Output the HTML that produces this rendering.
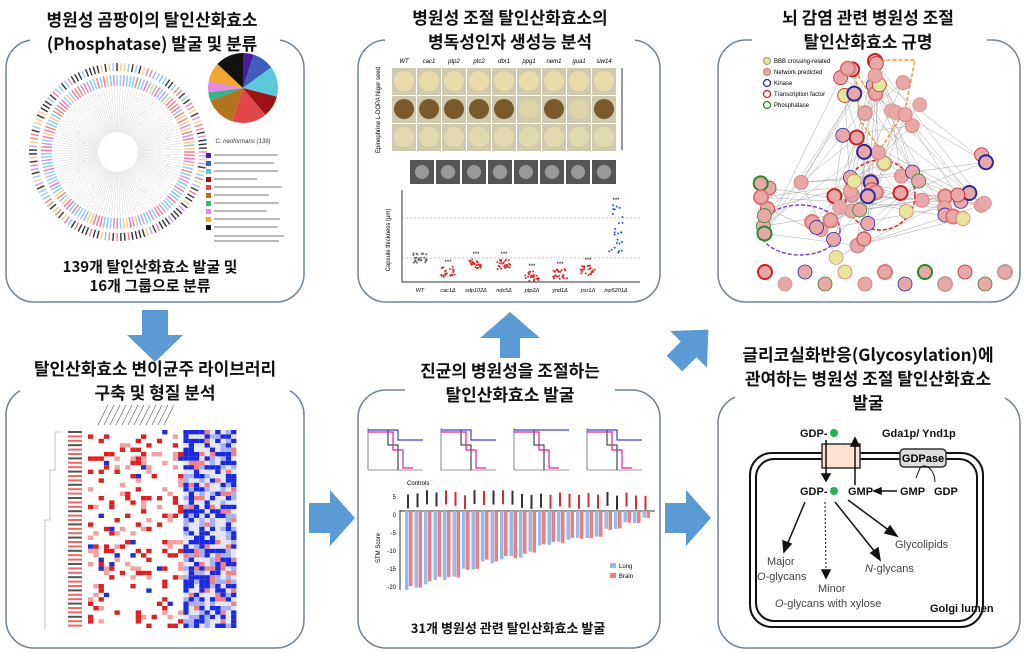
<!DOCTYPE html>
<html><head><meta charset="utf-8"><style>
html,body{margin:0;padding:0;background:#fff;width:1024px;height:652px;overflow:hidden}
svg text{font-family:"Liberation Sans","Noto Sans CJK KR",sans-serif}
.t{font-family:"Noto Sans CJK KR","Liberation Sans",sans-serif !important;font-weight:bold;font-size:17px;fill:#111}
</style></head><body>
<svg id="s" width="1024" height="652" viewBox="0 0 1024 652" xmlns="http://www.w3.org/2000/svg">
<g fill="none" stroke="#6f8497" stroke-width="1.5">
<rect x="6" y="40" width="298" height="262" rx="28"/>
<rect x="358" y="40" width="302" height="262" rx="28"/>
<rect x="718" y="40" width="302" height="262" rx="28"/>
<rect x="6" y="387" width="298" height="261" rx="28"/>
<rect x="358" y="390" width="302" height="258" rx="28"/>
<rect x="718" y="395" width="302" height="253" rx="28"/>
</g>
<g fill="#fff">
<rect x="30" y="30" width="250" height="22"/><rect x="385" y="30" width="250" height="22"/>
<rect x="752" y="30" width="235" height="22"/><rect x="20" y="380" width="270" height="22"/>
<rect x="405" y="382" width="210" height="22"/><rect x="735" y="385" width="270" height="30"/>
</g>
<g text-anchor="middle">
<text class="t" x="152" y="26">병원성 곰팡이의 탈인산화효소</text>
<text class="t" x="152" y="50">(Phosphatase) 발굴 및 분류</text>
<text class="t" x="510" y="24">병원성 조절 탈인산화효소의</text>
<text class="t" x="510" y="48">병독성인자 생성능 분석</text>
<text class="t" x="868" y="24">뇌 감염 관련 병원성 조절</text>
<text class="t" x="868" y="48">탈인산화효소 규명</text>
<text class="t" x="155" y="375">탈인산화효소 변이균주 라이브러리</text>
<text class="t" x="155" y="399">구축 및 형질 분석</text>
<text class="t" x="510" y="377">진균의 병원성을 조절하는</text>
<text class="t" x="510" y="401">탈인산화효소 발굴</text>
<text class="t" x="868" y="361">글리코실화반응(Glycosylation)에</text>
<text class="t" x="868" y="385">관여하는 병원성 조절 탈인산화효소</text>
<text class="t" x="868" y="409">발굴</text>
<text class="t" x="150" y="272" style="font-size:15px">139개 탈인산화효소 발굴 및</text>
<text class="t" x="150" y="291" style="font-size:15px">16개 그룹으로 분류</text>
<text class="t" x="508" y="633" style="font-size:13px">31개 병원성 관련 탈인산화효소 발굴</text>
</g>
<!-- arrows -->
<g fill="#5b9bd5">
<polygon points="142,310 168,310 168,335 183,335 155,362 127,335 142,335"/>
<polygon points="500,358 520,358 520,338 540,338 510,312 480,338 500,338"/>
<polygon points="309,503 330,503 330,490 355,518 330,546 330,533 309,533"/>
<polygon points="665,503 686,503 686,490 711,518 686,546 686,533 665,533"/>
<polygon transform="rotate(-45 690 348)" points="668,337 688,337 688,322 716,348 688,374 688,359 668,359"/>
</g>
<g id="dyn"></g>
<g transform="translate(243,88)" id="pie"></g>
<text x="243" y="143" font-size="6" text-anchor="middle" font-style="italic" fill="#333">C. neoformans (139)</text>
<!-- golgi -->
<g stroke="#111" fill="none" stroke-width="2">
<rect x="750" y="453" width="233" height="174" rx="22"/>
<rect x="756" y="459" width="221" height="162" rx="18"/>
</g>
<rect x="822" y="444" width="38" height="24" fill="#fbe1d0" stroke="#333" stroke-width="1.5"/>
<rect x="900" y="449" width="46" height="18" rx="4" fill="#ddd" stroke="#333" stroke-width="1.5"/>
<text x="923" y="462" font-size="11" font-weight="bold" text-anchor="middle">GDPase</text>
<g font-size="11" font-weight="bold" fill="#111">
<text x="800" y="437">GDP-</text><circle cx="834" cy="433" r="4" fill="#22b14c"/>
<text x="882" y="437">Gda1p/ Ynd1p</text>
<text x="800" y="495">GDP-</text><circle cx="834" cy="491" r="4" fill="#22b14c"/>
<text x="848" y="495">GMP</text><text x="900" y="495">GMP</text><text x="934" y="495">GDP</text>
<text x="930" y="612">Golgi lumen</text>
</g>
<g font-size="11" fill="#444">
<text x="767" y="565">Major</text><text x="757" y="580"><tspan font-style="italic">O</tspan>-glycans</text>
<text x="818" y="592">Minor</text><text x="775" y="607"><tspan font-style="italic">O</tspan>-glycans with xylose</text>
<text x="865" y="572"><tspan font-style="italic">N</tspan>-glycans</text>
<text x="895" y="548">Glycolipids</text>
</g>
<g stroke="#111" stroke-width="1.5" fill="#111">
<line x1="826" y1="440" x2="826" y2="475"/><polygon points="822,474 830,474 826,481"/>
<line x1="855" y1="485" x2="855" y2="445"/><polygon points="851,446 859,446 855,438"/>
<line x1="897" y1="491" x2="880" y2="491"/><polygon points="881,488 881,494 874,491"/>
<path d="M935,482 C935,470 925,462 920,468 L916,478" fill="none" stroke-width="1"/>
<line x1="805" y1="502" x2="787" y2="545"/><polygon points="783,541 791,544 784,552"/>
<line x1="825" y1="502" x2="826" y2="572" stroke-dasharray="2,2" stroke-width="1"/><polygon points="822,570 830,570 826,578"/>
<line x1="835" y1="502" x2="875" y2="552"/><polygon points="871,553 878,548 880,560"/>
<line x1="848" y1="500" x2="890" y2="531"/><polygon points="885,533 890,526 897,536"/>
</g>
</svg>
<script>
var d=document.getElementById('dyn'),h='';
var seed=7;function r(){seed=(seed*16807)%2147483647;return seed/2147483647;}
var cx=118,cy=152,cols=['#e88','#f7a','#9cf','#c9e','#fc8','#8cd','#333'];
for(var i=0;i<139;i++){var a=i/139*Math.PI*2,c=Math.cos(a),s=Math.sin(a);
h+='<line x1="'+(cx+c*66)+'" y1="'+(cy+s*66)+'" x2="'+(cx+c*77)+'" y2="'+(cy+s*77)+'" stroke="'+cols[Math.floor(r()*6)]+'" stroke-width="1.5"/>';
h+='<line x1="'+(cx+c*81)+'" y1="'+(cy+s*81)+'" x2="'+(cx+c*89)+'" y2="'+(cy+s*89)+'" stroke="'+(r()<0.5?'#333':cols[Math.floor(r()*6)])+'" stroke-width="1.4"/>';
h+='<line x1="'+(cx+c*20)+'" y1="'+(cy+s*20)+'" x2="'+(cx+c*64)+'" y2="'+(cy+s*64)+'" stroke="#ccc" stroke-width="0.4"/>';}
var lc=['#4b1d9e','#3f5fbf','#5bc8dc','#9e1414','#e04848','#b3741e','#3bb38a','#e68ae0','#f0a830','#111'];
for(i=0;i<10;i++){h+='<rect x="206" y="'+(153+i*8)+'" width="5" height="5" fill="'+lc[i]+'"/><rect x="214" y="'+(154+i*8)+'" width="'+(40+r()*30)+'" height="2" fill="#bbb"/>';}
h+='<rect x="214" y="235" width="70" height="2" fill="#bbb"/><rect x="214" y="240" width="65" height="2" fill="#bbb"/>';
var sl=[5,10,14,10,16,14,4,5,9,13],tot=100,ang=-Math.PI/2,ph='';
for(i=0;i<10;i++){var a2=ang+sl[i]/tot*Math.PI*2;ph+='<path d="M0,0 L'+35*Math.cos(ang)+','+35*Math.sin(ang)+' A35,35 0 0 1 '+35*Math.cos(a2)+','+35*Math.sin(a2)+' Z" fill="'+lc[i]+'"/>';ang=a2;}
document.getElementById('pie').innerHTML=ph;
var lbl=['WT','cac1','ptp2','ptc2','dbr1','ppg1','nem1','gua1','siw14'];
for(i=0;i<9;i++){var x=392+i*25;h+='<text x="'+(x+12)+'" y="63" font-size="6" font-style="italic" text-anchor="middle">'+lbl[i]+'</text>';
for(var j=0;j<3;j++){var col=j==0?'#e9dcaa':(j==1?(i==5||i==7?'#ddd2a8':'#7a5a2a'):'#e3d9b0');h+='<rect x="'+x+'" y="'+(68+j*28)+'" width="24" height="27" fill="#cfc9b0"/><circle cx="'+(x+12)+'" cy="'+(81+j*28)+'" r="10" fill="'+col+'"/>';}}
h+='<text x="380" y="110" font-size="6" transform="rotate(-90 380 110)" text-anchor="middle">Epinephrine  L-DOPA  Niger seed</text>';
h+='<line x1="622" y1="68" x2="622" y2="150" stroke="#333"/>';
for(i=0;i<8;i++){h+='<rect x="'+(410+i*26)+'" y="160" width="24" height="24" fill="#555"/><circle cx="'+(422+i*26)+'" cy="172" r="7" fill="#999"/>';}
h+='<line x1="402" y1="190" x2="402" y2="282" stroke="#333"/><line x1="402" y1="282" x2="640" y2="282" stroke="#333"/>';
h+='<line x1="402" y1="218" x2="640" y2="218" stroke="#888" stroke-dasharray="2,2" stroke-width="0.6"/><line x1="402" y1="258" x2="640" y2="258" stroke="#888" stroke-dasharray="2,2" stroke-width="0.6"/>';
h+='<text x="390" y="240" font-size="6" transform="rotate(-90 390 240)" text-anchor="middle">Capsule thickness (μm)</text>';
var ys=[258,272,264,264,276,274,270,230];var xl=['WT','cac1Δ','sdp102Δ','ndx5Δ','ptp2Δ','ynd1Δ','psr1Δ','inp5201Δ'];
for(i=0;i<8;i++){var x=420+i*28;for(j=0;j<25;j++){var yy=ys[i]+(r()-0.5)*(i==7?50:10);h+='<circle cx="'+(x+(r()-0.5)*14)+'" cy="'+yy+'" r="1" fill="'+(i==0?'#666':(i==7?'#2a5fc0':'#d03030'))+'"/>';}
h+='<text x="'+x+'" y="292" font-size="5.5" font-style="italic" text-anchor="middle">'+xl[i]+'</text>';if(i>0)h+='<text x="'+x+'" y="'+(ys[i]-(i==7?28:8))+'" font-size="6" text-anchor="middle">***</text>';}
var nodes=[];for(i=0;i<85;i++){var nx,ny;if(i<20){nx=840+r()*90;ny=60+r()*80;}else if(i<50){nx=850+r()*140;ny=150+r()*80;}else if(i<72){nx=760+r()*110;ny=180+r()*80;}else{nx=765+(i-72)*20;ny=272+((i%2)*12);}nodes.push([nx,ny]);}
for(i=0;i<90;i++){var p=nodes[Math.floor(r()*72)],q=nodes[Math.floor(r()*72)];h+='<line x1="'+p[0]+'" y1="'+p[1]+'" x2="'+q[0]+'" y2="'+q[1]+'" stroke="#aaa" stroke-width="0.5"/>';}
h+='<ellipse cx="880" cy="195" rx="35" ry="35" fill="none" stroke="#d22" stroke-width="1.5" stroke-dasharray="4,2"/>';
h+='<path d="M855,70 L870,95 L880,60 L915,60 L905,110 L880,150 L860,120 Z" fill="none" stroke="#f0953a" stroke-width="1.5" stroke-dasharray="4,2"/>';
h+='<ellipse cx="800" cy="230" rx="40" ry="25" fill="none" stroke="#8b3fc0" stroke-width="1.5" stroke-dasharray="4,2"/>';
var rim=['#d77','#d77','#d77','#2a2aa0','#2a8a2a','#c22','#c99'];
for(i=0;i<85;i++){var f=i%9==4?'#e6e69a':'#e8a8a8';h+='<circle cx="'+nodes[i][0]+'" cy="'+nodes[i][1]+'" r="7" fill="'+f+'" stroke="'+rim[Math.floor(r()*7)]+'" stroke-width="'+(r()<0.4?2:0.8)+'"/>';}
var lg=[['#e6e69a','#aa8','BBB crossing-related'],['#e8a8a8','#c88','Network predicted'],['#fff','#2a2aa0','Kinase'],['#fff','#c22','Transcription factor'],['#fff','#2a8a2a','Phosphatase']];
for(i=0;i<5;i++){h+='<circle cx="767" cy="'+(61+i*11)+'" r="3.5" fill="'+lg[i][0]+'" stroke="'+lg[i][1]+'" stroke-width="1.3"/><text x="774" y="'+(63+i*11)+'" font-size="6">'+lg[i][2]+'</text>';}
for(i=0;i<45;i++){for(j=0;j<28;j++){var x=88+j*5.3,y=430+i*4.4,v=r(),c='#fff';
if(j<18){if(v<0.12)c='#e02020';else if(v<0.2)c='#f4a0a0';else if(v<0.22)c='#2030d0';}
else{if(v<0.4)c='#1a2ae0';else if(v<0.58)c='#a8b0f0';else if(v<0.7)c='#f08080';else c='#e4e6f4';}
if(c!='#fff')h+='<rect x="'+x+'" y="'+y+'" width="5.3" height="4.4" fill="'+c+'"/>';}
h+='<rect x="68" y="'+(431+i*4.4)+'" width="14" height="2" fill="'+(i%3?'#e66':'#555')+'"/>';}
h+='<path d="M62,432 L55,432 L55,470 L50,470 L50,520 L45,520 L45,630" fill="none" stroke="#999" stroke-width="0.6"/>';
for(i=0;i<12;i++)h+='<line x1="'+(98+i*6)+'" y1="425" x2="'+(108+i*6)+'" y2="405" stroke="#555" stroke-width="0.6"/>';
for(i=0;i<4;i++){var x=368+i*73;h+='<line x1="'+x+'" y1="428" x2="'+x+'" y2="470" stroke="#333" stroke-width="0.6"/><line x1="'+x+'" y1="470" x2="'+(x+55)+'" y2="470" stroke="#333" stroke-width="0.6"/>';
h+='<path d="M'+x+',430 H'+(x+20)+' V445 H'+(x+30)+' V470" stroke="#222" fill="none" stroke-width="1"/>';
h+='<path d="M'+x+',432 H'+(x+25)+' V450 H'+(x+35)+' V468 H'+(x+45)+'" stroke="#e020a0" fill="none" stroke-width="1.2"/>';
h+='<path d="M'+x+',430 H'+(x+30)+' V'+(i==2?430:440)+' H'+(x+55)+'" stroke="#4040d0" fill="none" stroke-width="1.2"/>';}
h+='<line x1="400" y1="510" x2="400" y2="590" stroke="#333"/><line x1="400" y1="511" x2="655" y2="511" stroke="#333"/>';
h+='<text x="372" y="555" font-size="6" transform="rotate(-90 380 555)">STM Score</text>';
var yl=['5','0','-5','-10','-15','-20'];for(i=0;i<6;i++)h+='<text x="396" y="'+(497+i*18+2)+'" font-size="6" text-anchor="end">'+yl[i]+'</text>';
h+='<text x="407" y="485" font-size="6">Controls</text>';
for(i=0;i<26;i++){var x=405+i*9.5,dep=Math.max(5,80-i*2.7-r()*8);
h+='<rect x="'+x+'" y="511" width="3.5" height="'+dep+'" fill="#9bb8e8"/><rect x="'+(x+4)+'" y="511" width="3.5" height="'+(dep*(0.9+r()*0.2))+'" fill="#ea7f7f"/>';
h+='<rect x="'+(x+2)+'" y="'+(490+r()*6)+'" width="2" height="14" fill="'+(r()<0.6?'#d03030':'#333')+'"/>';}
h+='<rect x="610" y="563" width="6" height="5" fill="#9bb8e8"/><text x="619" y="568" font-size="6">Lung</text><rect x="610" y="573" width="6" height="5" fill="#ea7f7f"/><text x="619" y="578" font-size="6">Brain</text>';
d.innerHTML=h;
</script>
</body></html>
